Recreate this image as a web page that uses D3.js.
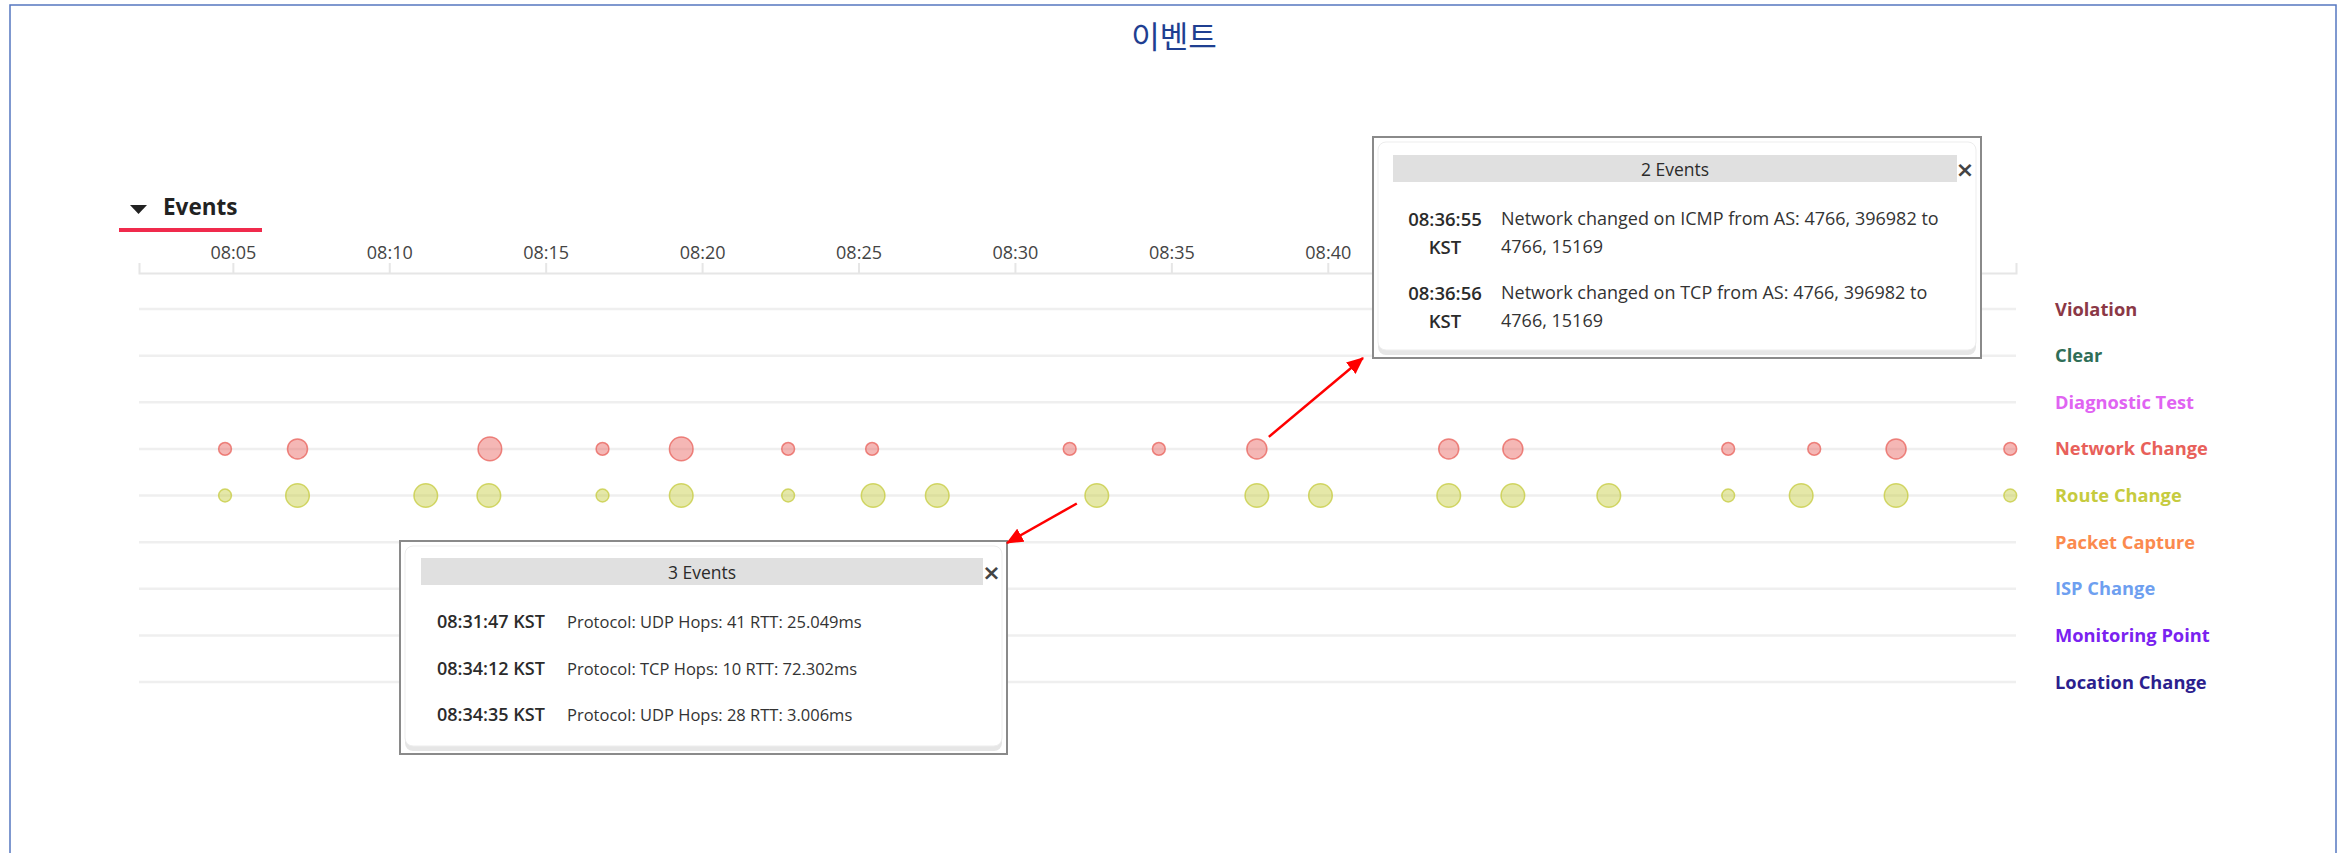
<!DOCTYPE html>
<html>
<head>
<meta charset="utf-8">
<script src="https://cdn.jsdelivr.net/npm/d3@7"></script>
<style>
  html, body { margin: 0; padding: 0; background: #fff; }
  svg { display: block; }
</style>
</head>
<body>
<svg id="chart" width="2348" height="853"></svg>
<script>
// ---------------- DATA ----------------
const chartTitle = "이벤트";
const sectionTitle = "Events";

const categories = ["Violation", "Clear", "Diagnostic Test", "Network Change", "Route Change",
  "Packet Capture", "ISP Change", "Monitoring Point", "Location Change"];
const categoryColors = ["#8b3846", "#2f6e57", "#e063f2", "#e8605a", "#c6cb3e",
  "#fb8a4e", "#6e9ff0", "#7a22f0", "#2c1f8e"];

// visible tick labels (later ticks are hidden behind the tooltip in the reference)
const tickLabels = ["08:05", "08:10", "08:15", "08:20", "08:25", "08:30", "08:35", "08:40"];
const timeStart = "08:02:00";
const timeEnd = "09:02:00";

const networkTimes = ["08:04:45", "08:07:04", "08:13:13", "08:16:49", "08:19:20", "08:22:45",
  "08:25:26", "08:31:45", "08:34:36", "08:37:44", "08:43:52", "08:45:55", "08:52:48",
  "08:55:33", "08:58:10", "09:01:49"];
const networkCounts = [1, 2, 3, 1, 3, 1, 1, 1, 1, 2, 2, 2, 1, 1, 2, 1];

const routeTimes = ["08:04:45", "08:07:04", "08:11:10", "08:13:11", "08:16:49", "08:19:20",
  "08:22:45", "08:25:28", "08:27:31", "08:32:37", "08:37:44", "08:39:46", "08:43:52",
  "08:45:55", "08:48:59", "08:52:48", "08:55:08", "08:58:10", "09:01:49"];
const routeCounts = [1, 3, 3, 3, 1, 3, 1, 3, 3, 3, 3, 3, 3, 3, 3, 1, 3, 3, 1];

const tip1Title = "2 Events";
const tip1Times = ["08:36:55 KST", "08:36:56 KST"];
const tip1Texts = ["Network changed on ICMP from AS: 4766, 396982 to 4766, 15169",
  "Network changed on TCP from AS: 4766, 396982 to 4766, 15169"];
const tip1Anchor = { category: "Network Change", time: "08:37:44" };

const tip2Title = "3 Events";
const tip2Times = ["08:31:47 KST", "08:34:12 KST", "08:34:35 KST"];
const tip2Texts = ["Protocol: UDP Hops: 41 RTT: 25.049ms",
  "Protocol: TCP Hops: 10 RTT: 72.302ms",
  "Protocol: UDP Hops: 28 RTT: 3.006ms"];
const tip2Anchor = { category: "Route Change", time: "08:32:37" };

// ---------------- LAYOUT ----------------
const FONT = "'Open Sans', 'Noto Sans', sans-serif";
const svg = d3.select("#chart");
const parse = d3.timeParse("%H:%M:%S");
const parseHM = d3.timeParse("%H:%M");

const x = d3.scaleTime().domain([parse(timeStart), parse(timeEnd)]).range([139, 2016]);
const y = d3.scalePoint().domain(categories).range([309, 682]);
const color = d3.scaleOrdinal().domain(categories).range(categoryColors);
const r = d3.scaleLinear().domain([1, 2, 3]).range([6.4, 10, 11.8]).clamp(true);

// frame
svg.append("rect").attr("x", 10).attr("y", 5).attr("width", 2326).attr("height", 870)
  .attr("fill", "none").attr("stroke", "#5577c0").attr("stroke-width", 1.5);

// title
svg.append("text").attr("x", 1174).attr("y", 48).attr("text-anchor", "middle")
  .attr("font-family", "'Noto Sans CJK KR', sans-serif").attr("font-size", 31)
  .attr("font-weight", 400).attr("fill", "#1f3f91").text(chartTitle);

// section header
svg.append("path").attr("d", "M130,205 L147,205 L138.5,214 Z").attr("fill", "#222");
svg.append("text").attr("x", 163).attr("y", 215).attr("font-family", FONT)
  .attr("font-size", 22.5).attr("font-weight", 700).attr("fill", "#222").text(sectionTitle);
svg.append("rect").attr("x", 119).attr("y", 228).attr("width", 143).attr("height", 4)
  .attr("fill", "#f02a4c");

// grid lines per category
svg.append("g").selectAll("line").data(categories).join("line")
  .attr("x1", x.range()[0]).attr("x2", x.range()[1])
  .attr("y1", d => y(d)).attr("y2", d => y(d))
  .attr("stroke", "#efefef").attr("stroke-width", 2.5);

// axis
const axis = d3.axisTop(x)
  .tickValues(tickLabels.map(parseHM))
  .tickFormat(d3.timeFormat("%H:%M"))
  .tickSize(10).tickSizeOuter(10).tickPadding(4);
const gAxis = svg.append("g").attr("transform", "translate(0,273)").call(axis);
gAxis.select(".domain").attr("stroke", "#e6e6e6").attr("stroke-width", 2);
gAxis.selectAll(".tick line").attr("stroke", "#e6e6e6").attr("stroke-width", 2);
gAxis.selectAll(".tick text").attr("font-family", FONT).attr("font-size", 18)
  .attr("fill", "#444");

// legend labels
svg.append("g").selectAll("text").data(categories).join("text")
  .attr("x", 2055).attr("y", d => y(d) - 1).attr("dominant-baseline", "central")
  .attr("font-family", FONT).attr("font-size", 18.3).attr("font-weight", 700)
  .attr("fill", d => color(d)).text(d => d);

// dots
function drawSeries(cat, times, counts) {
  const data = times.map((t, i) => ({ t: parse(t), c: counts[i] }));
  svg.append("g").selectAll("circle").data(data).join("circle")
    .attr("cx", d => x(d.t)).attr("cy", y(cat)).attr("r", d => r(d.c))
    .attr("fill", color(cat)).attr("fill-opacity", 0.45)
    .attr("stroke", color(cat)).attr("stroke-opacity", 0.75).attr("stroke-width", 1.5);
}
drawSeries("Network Change", networkTimes, networkCounts);
drawSeries("Route Change", routeTimes, routeCounts);

// ---------------- TOOLTIPS ----------------
function wrap(textSel, str, maxW, x0, lineH) {
  const words = str.split(/\s+/);
  let line = [];
  let tspan = textSel.append("tspan").attr("x", x0).attr("dy", 0);
  let n = 1;
  for (const w of words) {
    line.push(w);
    tspan.text(line.join(" "));
    if (tspan.node().getComputedTextLength() > maxW && line.length > 1) {
      line.pop();
      tspan.text(line.join(" "));
      line = [w];
      tspan = textSel.append("tspan").attr("x", x0).attr("dy", lineH).text(w);
      n++;
    }
  }
  return n;
}

function drawTooltip(box, title, times, texts, opt) {
  const g = svg.append("g");
  g.append("rect").attr("x", box.x).attr("y", box.y).attr("width", box.w).attr("height", box.h)
    .attr("fill", "#fff").attr("stroke", "#8a8a8a").attr("stroke-width", 2);
  g.append("rect").attr("x", box.x + 5).attr("y", box.y + 8).attr("width", box.w - 10)
    .attr("height", box.h - 11).attr("rx", 8).attr("fill", "#e6e6e6");
  g.append("rect").attr("x", box.x + 5).attr("y", box.y + 5).attr("width", box.w - 10)
    .attr("height", box.h - 13).attr("rx", 8).attr("fill", "#fff")
    .attr("stroke", "#ededed").attr("stroke-width", 1);
  g.append("rect").attr("x", box.x + opt.hx).attr("y", box.y + opt.hy)
    .attr("width", opt.hw).attr("height", 27).attr("fill", "#e0e0e0");
  g.append("text").attr("x", box.x + opt.hx + opt.hw / 2).attr("y", box.y + opt.hy + 14)
    .attr("text-anchor", "middle").attr("dominant-baseline", "central")
    .attr("font-family", FONT).attr("font-size", 17.5).attr("fill", "#2b2b2b").text(title);
  g.append("text").attr("x", box.x + opt.cx).attr("y", box.y + opt.hy + 14)
    .attr("text-anchor", "middle").attr("dominant-baseline", "central")
    .attr("font-family", "'DejaVu Sans', sans-serif").attr("font-size", 22)
    .attr("font-weight", 700).attr("fill", "#444").text("×");
  let cy = box.y + opt.firstY;
  times.forEach((t, i) => {
    const tt = g.append("text").attr("y", cy).attr("dominant-baseline", "central")
      .attr("font-family", FONT).attr("font-size", opt.timeSize).attr("font-weight", 600)
      .attr("fill", "#2b2b2b").attr("text-anchor", opt.timeAnchor);
    const n1 = wrap(tt, t, opt.timeW, box.x + opt.timeX, opt.lineH);
    const dt = g.append("text").attr("y", cy).attr("dominant-baseline", "central")
      .attr("font-family", FONT).attr("font-size", opt.descSize).attr("fill", "#333");
    const n2 = wrap(dt, texts[i], opt.descW, box.x + opt.descX, opt.lineH);
    cy += Math.max(n1, n2) * opt.lineH + opt.rowGap;
  });
}

const box1 = { x: 1373, y: 137, w: 608, h: 221 };
const box2 = { x: 400, y: 541, w: 607, h: 213 };

drawTooltip(box1, tip1Title, tip1Times, tip1Texts, {
  hx: 20, hy: 18, hw: 564, cx: 592, firstY: 81, lineH: 27.5, rowGap: 19,
  timeX: 72, timeAnchor: "middle", timeW: 90, descX: 128, descW: 455,
  timeSize: 18.5, descSize: 18
});
drawTooltip(box2, tip2Title, tip2Times, tip2Texts, {
  hx: 21, hy: 17, hw: 562, cx: 591.5, firstY: 80, lineH: 27, rowGap: 19.7,
  timeX: 37, timeAnchor: "start", timeW: 300, descX: 167, descW: 420,
  timeSize: 18, descSize: 16.5
});

// arrows
const defs = svg.append("defs");
defs.append("marker").attr("id", "arrow").attr("markerUnits", "userSpaceOnUse")
  .attr("viewBox", "0 0 16 14").attr("refX", 15).attr("refY", 7)
  .attr("markerWidth", 17).attr("markerHeight", 15).attr("orient", "auto")
  .append("path").attr("d", "M0,0 L16,7 L0,14 Z").attr("fill", "#ff0000");

const a1x = x(parse(tip1Anchor.time)), a1y = y(tip1Anchor.category);
svg.append("line").attr("x1", a1x + 12).attr("y1", a1y - 12)
  .attr("x2", box1.x - 10).attr("y2", box1.y + box1.h)
  .attr("stroke", "#ff0000").attr("stroke-width", 2.5).attr("marker-end", "url(#arrow)");

const a2x = x(parse(tip2Anchor.time)), a2y = y(tip2Anchor.category);
svg.append("line").attr("x1", a2x - 20).attr("y1", a2y + 8)
  .attr("x2", box2.x + box2.w).attr("y2", box2.y + 2)
  .attr("stroke", "#ff0000").attr("stroke-width", 2.5).attr("marker-end", "url(#arrow)");
</script>
</body>
</html>
